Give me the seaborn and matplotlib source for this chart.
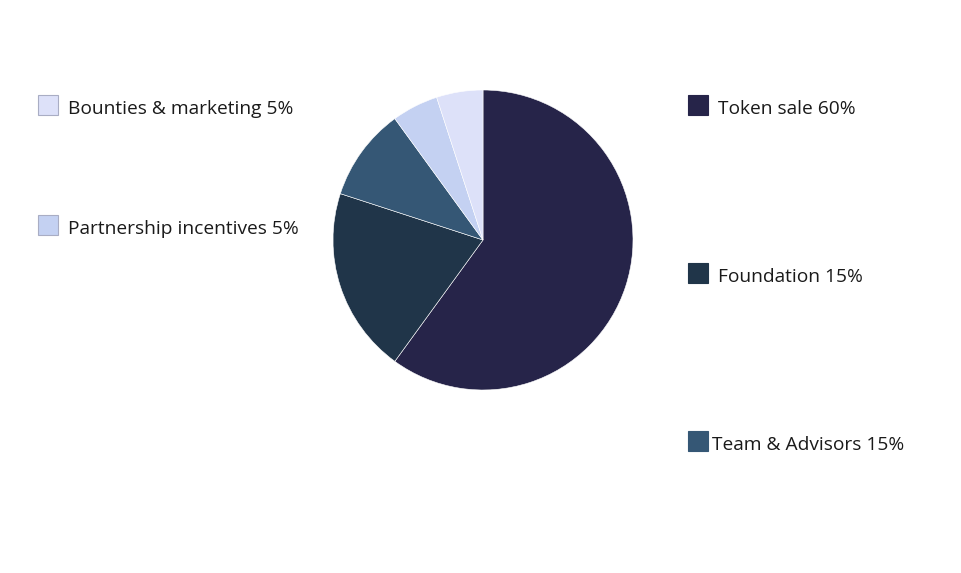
import matplotlib
matplotlib.use("Agg")
import matplotlib.pyplot as plt
from matplotlib.patches import Rectangle
import seaborn as sns

# Token allocation (slice sizes as drawn, label text as printed)
categories = ["Token sale", "Foundation", "Team & Advisors",
              "Partnership incentives", "Bounties & marketing"]
values = [60, 20, 10, 5, 5]
label_pct = ["60%", "15%", "15%", "5%", "5%"]
colors = ["#262449", "#203549", "#355775", "#c4d1f2", "#dde1f9"]

sns.set_theme(style="white")
plt.rcParams['font.family'] = ['Open Sans', 'DejaVu Sans']

W, H = 961, 573
fig = plt.figure(figsize=(W / 100, H / 100), dpi=100)

# pie centred at (483, 240) px, radius 150 px
ax = fig.add_axes([333 / W, (H - 390) / H, 300 / W, 300 / H])
ax.pie(values, colors=colors, startangle=90, counterclock=False,
       wedgeprops=dict(edgecolor="white", linewidth=0.4), radius=1.0)
ax.set_xlim(-1, 1)
ax.set_ylim(-1, 1)
ax.set_aspect("equal")
ax.axis("off")

# legend layout: (box left px, text left px, centre y px)
legend_pos = [(688, 718, 105), (688, 718, 273), (688, 712, 441),
              (38, 68, 225), (38, 68, 105)]

for name, pct, col, (bx, tx, cy) in zip(categories, label_pct, colors, legend_pos):
    edge = "#a9adc4" if col.startswith("#c") or col.startswith("#d") else col
    fig.patches.append(Rectangle((bx / W, (H - cy - 10) / H), 20 / W, 20 / H,
                                 transform=fig.transFigure, facecolor=col,
                                 edgecolor=edge, linewidth=0.8))
    fig.text(tx / W, (H - cy - 4) / H, f"{name} {pct}", fontsize=13.8,
             color="#1a1a1a", va="center", ha="left")

fig.savefig("out.png", dpi=100, facecolor="white")
